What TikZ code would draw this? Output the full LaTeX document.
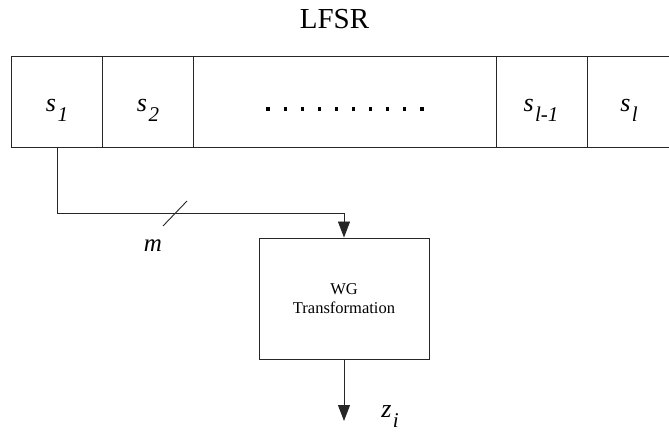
\documentclass[tikz,border=0pt]{standalone}
\usepackage{fontspec}
\setmainfont{Liberation Serif}
\usetikzlibrary{arrows.meta}
\newcommand\mysub[2]{\textit{#1}\hspace{1.5pt}\raisebox{-10pt}{\fontsize{21}{21}\selectfont\textit{#2}}}
\begin{document}
\begin{tikzpicture}[x=1pt,y=-1pt,
  ln/.style={line width=0.9pt,draw=black!85},
  arr/.style={ln,-{Triangle[width=12pt,length=16pt]}},
  lbl/.style={inner sep=0pt,font=\fontsize{26}{26}\selectfont},
  dotmark/.style={fill=black,inner sep=0pt,minimum size=3.2pt,draw=none,rectangle}]
\useasboundingbox (0,0) rectangle (669,435);
\node[inner sep=0pt,font=\fontsize{29}{29}\selectfont] (title) at (334.5,19) {LFSR};
% register
\coordinate (rtl) at (11,56);
\coordinate (rbl) at (11,147);
\draw[ln] (669,56) -- (rtl) -- (rbl) -- (669,147);
\foreach \x in {102,193,496,587} \draw[ln] (\x,56) -- (\x,147);
\node[lbl] (s1) at (57,110) {\mysub{s}{1}};
\node[lbl] (s2) at (148,110) {\mysub{s}{2}};
\node[lbl] (sl1) at (541,110) {\mysub{s}{l-1}};
\node[lbl] (sl) at (629,110) {\mysub{s}{l}};
\foreach \i in {0,...,9} \node[dotmark] at (268+17.1*\i,109) {};
\coordinate (c1) at (57,147);
% WG box
\node[ln,draw,minimum width=170pt,minimum height=121pt,inner sep=0pt,align=center,
  font=\fontsize{16.5}{19}\selectfont] (wg) at (344,298.5) {WG\\Transformation};
\coordinate (bend) at (57,213);
\draw[arr] (c1) -- (bend) -- (wg.north |- bend) -- (wg.north);
\coordinate (sa) at (163,226);
\coordinate (sb) at (187,201);
\draw[ln] (sa) -- (sb);
\node[lbl,font=\fontsize{25}{25}\selectfont\itshape] (m) at (153,246) {m};
\coordinate (out) at (344,421);
\draw[arr] (wg.south) -- (out);
\node[lbl] (z) at (390,417) {\mysub{z}{i}};
\end{tikzpicture}
\end{document}
